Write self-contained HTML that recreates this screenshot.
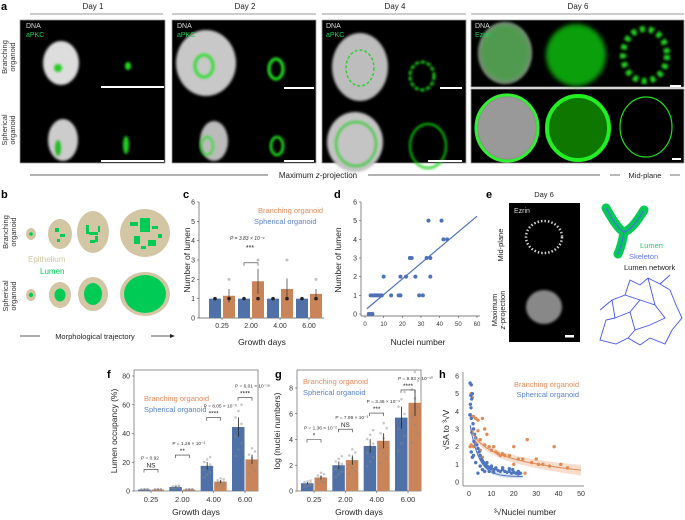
<!DOCTYPE html>
<html><head><meta charset="utf-8"><style>
html,body{margin:0;padding:0;background:#fff;}
svg{display:block;font-family:"Liberation Sans",Arial,sans-serif;}
</style></head><body>
<svg id="fig" width="685" height="520" viewBox="0 0 685 520" xmlns="http://www.w3.org/2000/svg">
<defs>
<filter id="bl" x="-50%" y="-50%" width="200%" height="200%"><feGaussianBlur stdDeviation="1.2"/></filter>
<filter id="bl2" x="-50%" y="-50%" width="200%" height="200%"><feGaussianBlur stdDeviation="2.5"/></filter>
</defs>

<!-- ================= PANEL A ================= -->
<g>
<text x="1" y="10" font-size="11" font-weight="bold">a</text>
<text x="93" y="9" font-size="8" text-anchor="middle" fill="#222">Day 1</text>
<text x="245" y="9" font-size="8" text-anchor="middle" fill="#222">Day 2</text>
<text x="395" y="9" font-size="8" text-anchor="middle" fill="#222">Day 4</text>
<text x="578" y="9" font-size="8" text-anchor="middle" fill="#222">Day 6</text>
<g stroke="#777" stroke-width="0.8">
<line x1="30" y1="14" x2="163" y2="14"/><line x1="172" y1="14" x2="316" y2="14"/><line x1="322" y1="14" x2="466" y2="14"/><line x1="471" y1="14" x2="684" y2="14"/>
</g>
<text transform="translate(7,57) rotate(-90)" font-size="7.5" text-anchor="middle" fill="#333"><tspan x="0" dy="0">Branching</tspan><tspan x="0" dy="8">organoid</tspan></text>
<text transform="translate(7,130) rotate(-90)" font-size="7.5" text-anchor="middle" fill="#333"><tspan x="0" dy="0">Spherical</tspan><tspan x="0" dy="8">organoid</tspan></text>
<g>
<rect x="20" y="20" width="145" height="143" fill="#000" stroke="#999" stroke-width="0.8"/>
<ellipse cx="61" cy="63" rx="18" ry="22" fill="#ddd" filter="url(#bl)"/>
<ellipse cx="58" cy="68" rx="4" ry="4" fill="#2c2" filter="url(#bl)"/>
<ellipse cx="128" cy="66" rx="3" ry="4" fill="#2d2" filter="url(#bl)"/>
<ellipse cx="63" cy="140" rx="15" ry="21" fill="#ccc" filter="url(#bl)"/>
<ellipse cx="58" cy="148" rx="3" ry="8" fill="#2b2" filter="url(#bl)"/>
<ellipse cx="126" cy="145" rx="3" ry="9" fill="#2c2" filter="url(#bl)"/>
<rect x="101" y="86" width="63" height="2" fill="#fff"/><rect x="101" y="160" width="63" height="2" fill="#fff"/>
<text x="26" y="28" font-size="7" fill="#ddd">DNA</text><text x="26" y="37" font-size="7" fill="#2c5">aPKC</text>
</g>
<g>
<rect x="172" y="20" width="144" height="143" fill="#000" stroke="#999" stroke-width="0.8"/>
<ellipse cx="206" cy="63" rx="30" ry="33" fill="#c8c8c8" filter="url(#bl)"/>
<ellipse cx="204" cy="66" rx="9" ry="11" fill="none" stroke="#3d3" stroke-width="3" filter="url(#bl)"/>
<ellipse cx="276" cy="69" rx="7" ry="10" fill="none" stroke="#2e2" stroke-width="3" filter="url(#bl)"/>
<ellipse cx="214" cy="141" rx="14" ry="20" fill="#bbb" filter="url(#bl)"/>
<ellipse cx="207" cy="146" rx="6" ry="9" fill="none" stroke="#3d3" stroke-width="2" filter="url(#bl)"/>
<ellipse cx="277" cy="146" rx="6" ry="9" fill="none" stroke="#2e2" stroke-width="2.5" filter="url(#bl)"/>
<rect x="284" y="87" width="30" height="2" fill="#fff"/><rect x="284" y="160" width="30" height="2" fill="#fff"/>
<text x="177" y="28" font-size="7" fill="#ddd">DNA</text><text x="177" y="37" font-size="7" fill="#2c5">aPKC</text>
</g>
<g>
<rect x="322" y="20" width="144" height="143" fill="#000" stroke="#999" stroke-width="0.8"/>
<ellipse cx="360" cy="67" rx="28" ry="34" fill="#bdbdbd" filter="url(#bl)"/>
<ellipse cx="360" cy="68" rx="14" ry="18" fill="none" stroke="#3c3" stroke-width="1.5" stroke-dasharray="3 2"/>
<ellipse cx="422" cy="76" rx="12" ry="14" fill="none" stroke="#2e2" stroke-width="2.5" stroke-dasharray="4 2" filter="url(#bl)"/>
<ellipse cx="355" cy="142" rx="28" ry="30" fill="#c4c4c4" filter="url(#bl)"/>
<ellipse cx="356" cy="144" rx="20" ry="22" fill="none" stroke="#3c3" stroke-width="2" filter="url(#bl)"/>
<ellipse cx="428" cy="146" rx="18" ry="22" fill="none" stroke="#1c1" stroke-width="2" filter="url(#bl)"/>
<rect x="440" y="87" width="22" height="2" fill="#fff"/><rect x="428" y="160" width="34" height="2" fill="#fff"/>
<text x="326" y="28" font-size="7" fill="#ddd">DNA</text><text x="326" y="37" font-size="7" fill="#2c5">aPKC</text>
</g>
<g>
<rect x="471" y="20" width="213" height="67" fill="#000" stroke="#999" stroke-width="0.8"/>
<rect x="471" y="89" width="213" height="74" fill="#000" stroke="#999" stroke-width="0.8"/>
<ellipse cx="505" cy="53" rx="27" ry="31" fill="#888" filter="url(#bl)"/>
<ellipse cx="505" cy="53" rx="25" ry="29" fill="#2a2" opacity="0.55" filter="url(#bl2)"/>
<ellipse cx="576" cy="55" rx="30" ry="31" fill="#1b1" opacity="0.85" filter="url(#bl2)"/>
<ellipse cx="645" cy="55" rx="22" ry="26" fill="none" stroke="#2c2" stroke-width="6" stroke-dasharray="5 4" filter="url(#bl)"/>
<ellipse cx="507" cy="128" rx="31" ry="33" fill="#999" filter="url(#bl)"/>
<ellipse cx="507" cy="128" rx="31" ry="33" fill="none" stroke="#3e3" stroke-width="3"/>
<ellipse cx="578" cy="128" rx="31" ry="32" fill="#170" filter="url(#bl)"/>
<ellipse cx="578" cy="128" rx="31" ry="32" fill="none" stroke="#2e2" stroke-width="4"/>
<ellipse cx="646" cy="127" rx="26" ry="30" fill="none" stroke="#2d2" stroke-width="1.2"/>
<rect x="670" y="85" width="11" height="2" fill="#fff"/><rect x="672" y="158" width="9" height="2" fill="#fff"/>
<text x="475" y="28" font-size="7" fill="#ddd">DNA</text><text x="475" y="37" font-size="7" fill="#2c5">Ezrin</text>
</g>
<line x1="30" y1="175" x2="268" y2="175" stroke="#333" stroke-width="0.7"/>
<line x1="368" y1="175" x2="600" y2="175" stroke="#333" stroke-width="0.7"/>
<text x="318" y="178" font-size="8" text-anchor="middle" fill="#222">Maximum <tspan font-style="italic">z</tspan>-projection</text>
<line x1="610" y1="175" x2="620" y2="175" stroke="#333" stroke-width="0.7"/>
<line x1="670" y1="175" x2="680" y2="175" stroke="#333" stroke-width="0.7"/>
<text x="645" y="178" font-size="7.5" text-anchor="middle" fill="#222">Mid-plane</text>
</g>

<!-- ================= PANEL B ================= -->
<g>
<text x="1" y="198" font-size="11" font-weight="bold">b</text>
<text transform="translate(8,232) rotate(-90)" font-size="7.5" text-anchor="middle" fill="#333"><tspan x="0">Branching</tspan><tspan x="0" dy="8">organoid</tspan></text>
<text transform="translate(8,296) rotate(-90)" font-size="7.5" text-anchor="middle" fill="#333"><tspan x="0">Spherical</tspan><tspan x="0" dy="8">organoid</tspan></text>
<g fill="#d3c6a4">
<ellipse cx="31" cy="234" rx="5" ry="6"/><ellipse cx="60" cy="234" rx="12" ry="15"/><ellipse cx="93" cy="232" rx="16" ry="21"/><ellipse cx="145" cy="233" rx="25" ry="24"/>
<ellipse cx="31" cy="295" rx="5" ry="6"/><ellipse cx="60" cy="295" rx="11" ry="13"/><ellipse cx="93" cy="294" rx="15" ry="17"/><ellipse cx="145" cy="294" rx="25" ry="22"/>
</g>
<g fill="#00cc55">
<circle cx="31" cy="234" r="1.8"/><rect x="55" y="228" width="4" height="4"/><rect x="60" y="234" width="5" height="3"/><rect x="57" y="239" width="3" height="3"/>
<rect x="86" y="225" width="3" height="9"/><rect x="89" y="232" width="9" height="3"/><rect x="95" y="236" width="3" height="6"/><rect x="90" y="240" width="5" height="3"/><rect x="98" y="226" width="2" height="6"/>
<rect x="130" y="222" width="8" height="4"/><rect x="140" y="218" width="10" height="14"/><rect x="152" y="226" width="6" height="3"/><rect x="134" y="236" width="6" height="8"/><rect x="148" y="240" width="8" height="6"/><rect x="158" y="234" width="4" height="4"/><rect x="141" y="246" width="5" height="3"/>
<circle cx="31" cy="295" r="2.2"/><ellipse cx="60" cy="295" rx="5.5" ry="6.5"/><ellipse cx="93" cy="294" rx="9" ry="11"/><ellipse cx="145" cy="294" rx="21" ry="19"/>
</g>
<text x="28" y="262" font-size="8" fill="#d3c6a4">Epithelium</text>
<text x="40" y="274" font-size="8" fill="#00cc55">Lumen</text>
<line x1="20" y1="336" x2="40" y2="336" stroke="#222" stroke-width="0.8"/>
<line x1="151" y1="336" x2="170" y2="336" stroke="#222" stroke-width="0.8"/>
<polygon points="170,334 175,336 170,338" fill="#222"/>
<text x="95" y="339" font-size="7.5" text-anchor="middle" fill="#222">Morphological trajectory</text>
</g>

<!-- ================= PANEL E ================= -->
<g>
<text x="486" y="198" font-size="11" font-weight="bold">e</text>
<text x="544" y="197" font-size="7.5" text-anchor="middle" fill="#222">Day 6</text>
<rect x="509" y="203" width="71" height="139" fill="#000"/>
<ellipse cx="544" cy="237" rx="18" ry="16" fill="none" stroke="#ccc" stroke-width="2.5" stroke-dasharray="1.5 2"/>
<ellipse cx="544" cy="307" rx="18" ry="17" fill="#888" filter="url(#bl)"/>
<rect x="565" y="335" width="9" height="2.5" fill="#fff"/>
<text x="514" y="213" font-size="7" fill="#ddd">Ezrin</text>
<text transform="translate(503,245) rotate(-90)" font-size="7.5" text-anchor="middle" fill="#222">Mid-plane</text>
<text transform="translate(497,310) rotate(-90)" font-size="7.5" text-anchor="middle" fill="#222"><tspan x="0">Maximum</tspan><tspan x="0" dy="8"><tspan font-style="italic">z</tspan>-projection</tspan></text>
<path d="M606,208 Q618,230 624,232 Q632,230 644,210 M624,232 Q622,245 618,254" fill="none" stroke="#00cc55" stroke-width="9" stroke-linecap="round"/>
<path d="M606,208 Q618,230 624,232 Q632,230 644,210 M624,232 Q622,245 618,254" fill="none" stroke="#5566ee" stroke-width="1.2"/>
<text x="640" y="248" font-size="7.5" fill="#22cc66">Lumen</text>
<text x="629" y="259" font-size="7.5" fill="#6677ee">Skeleton</text>
<text x="624" y="270" font-size="7.5" fill="#222">Lumen network</text>
<path d="M600,340 L606,320 L615,318 L612,300 L625,295 L630,280 L640,285 L648,278 L660,284 L670,290 L676,305 L682,318 L672,330 L665,344 L650,338 L640,345 L628,338 L616,344 Z M615,318 L630,312 L640,300 L655,305 L665,318 L650,325 L635,330 L628,338 M625,295 L640,300 M648,278 L655,305 M630,312 L635,330 M612,300 L600,310 M660,284 L670,275" fill="none" stroke="#4455ee" stroke-width="0.9"/>
</g>

<g id="charts"></g>
</svg>
<script>
// ---------- data ----------
const cDays = ['0.25','2.00','4.00','6.00'];
const cSpherical = [1, 1, 1, 1];
const cBranching = [1.15, 1.9, 1.5, 1.25];
const cBranchErr = [0.35, 0.65, 0.55, 0.25];
const cYTicks = [0,1,2,3,4,5,6];

const dNuclei = [2,3,4,3,4,5,6,7,8,9,14,18,19,29,31,10,19,22,27,35,24,25,33,35,42,44,34,41];
const dLumen  = [0,0,0,1,1,1,1,1,1,1,1,1,1,1,1,2,2,2,2,2,3,3,3,3,4,4,5,5];
const dXTicks = [0,10,20,30,40,50,60];
const dYTicks = [0,1,2,3,4,5,6];

const fDays = ['0.25','2.00','4.00','6.00'];
const fSpherical = [1, 2.8, 17.5, 44.5];
const fBranching = [1, 1, 6.5, 22];
const fBracket = [15, 25, 51, 65];
const fYTicks = [0,20,40,60,80];
const fPvals = ['P = 0.92','P = 1.26 × 10⁻²','P = 8.05 × 10⁻³','P = 6.01 × 10⁻¹⁸'];
const fStars = ['NS','**','****','****'];

const gDays = ['0.25','2.00','4.00','6.00'];
const gSpherical = [0.6, 2.0, 3.5, 5.7];
const gBranching = [1.05, 2.4, 3.9, 6.85];
const gBracket = [4.0, 4.8, 6.05, 7.85];
const gYTicks = [0,2,4,6,8];
const gPvals = ['P = 1.36 × 10⁻²','P = 7.99 × 10⁻²','P = 3.46 × 10⁻⁴','P = 9.93 × 10⁻¹⁰'];
const gStars = ['*','NS','***','****'];

const hBlueX = [0.5,1,0.8,1.2,0.6,1.5,0.9,0.4,1,1.8,2,1.3,2.5,3,2.2,3.5,4,1,1.5,4.5,5,5.5,6,6.5,7,7.5,8,8.5,9,10,11,12,13,14,15,16,17,18,19,20,21,22,23,12,15,10,9,4,6,7,3,2,5,11,18,22,19.5,8];
const hBlueY = [5.6,5.5,4.9,4.7,4.4,5.0,4.2,3.8,3.6,3.3,3.0,2.8,2.7,2.5,2.3,2.1,1.9,1.7,1.4,1.7,1.5,1.3,1.2,1.1,1.0,0.95,0.9,0.85,0.8,0.75,0.7,0.75,0.65,0.6,0.7,0.6,0.55,0.6,0.5,0.55,0.5,0.45,0.5,0.8,0.8,0.9,0.6,0.5,0.7,0.6,1.1,1.5,0.9,0.55,0.75,0.6,0.7,1.1];
const hOrangeX = [1,1.5,0.7,1.2,2,3,4,0.5,1,2,3,5,6,7,8,9,10,11,12,13,14,15,16,18,20,22,24,25,26,28,30,31,33,36,38,41,44,5,4,6,7,20];
const hOrangeY = [5.0,4.8,3.8,3.7,3.7,3.6,3.5,2.0,2.1,2.0,2.2,2.4,3.6,2.1,2.7,2.0,1.8,2.0,1.7,1.6,1.5,1.6,1.5,1.5,2.0,1.3,1.3,0.5,2.4,1.1,1.3,1.0,1.0,0.9,2.0,1.0,0.8,1.8,2.9,1.4,3.0,1.0];
const hXTicks = [0,10,20,30,40,50];
const hYTicks = [0,1,2,3,4,5,6];

// ---------- helpers ----------
const NS = 'http://www.w3.org/2000/svg';
const root = document.getElementById('charts');
function el(tag, attrs, parent, text) {
  const e = document.createElementNS(NS, tag);
  for (const k in attrs) e.setAttribute(k, attrs[k]);
  if (text !== undefined) e.textContent = text;
  (parent || root).appendChild(e);
  return e;
}
function grp(name) {
  const g = el('g', {});
  
  
  return g;
}
const BLUE = '#4f71a8', ORANGE = '#c9845a', LBLUE = '#5a82cc', LORANGE = '#e48a58';
const FS = 7;

// ---------- panel c ----------
(function(){
  const g = grp('panel-c');
  const x0 = 199, x1 = 324, yb = 318, yt = 202;
  const y = v => yb - v / 6 * (yb - yt);
  const cx = i => 222 + i * 29;
  const t = el('text', {x:183, y:198, 'font-size':11, 'font-weight':'bold'}, g, 'c');
  
  
  el('line', {x1:x0, y1:yt, x2:x0, y2:yb, stroke:'#555', 'stroke-width':0.7}, g);
  el('line', {x1:x0, y1:yb, x2:x1, y2:yb, stroke:'#555', 'stroke-width':0.7}, g);
  cYTicks.forEach(v => {
    el('line', {x1:x0-2, y1:y(v), x2:x0, y2:y(v), stroke:'#555', 'stroke-width':0.6}, g);
    el('text', {x:x0-4, y:y(v)+2.5, 'font-size':FS, 'text-anchor':'end', fill:'#333'}, g, v);
  });
  cDays.forEach((d, i) => {
    el('line', {x1:cx(i), y1:yb, x2:cx(i), y2:yb+2, stroke:'#555', 'stroke-width':0.6}, g);
    el('text', {x:cx(i), y:yb+10, 'font-size':FS, 'text-anchor':'middle', fill:'#333'}, g, d);
    const b1 = el('rect', {x:cx(i)-13, y:y(cSpherical[i]), width:12, height:yb-y(cSpherical[i]), fill:BLUE}, g);
    
    
    const b2 = el('rect', {x:cx(i)+1, y:y(cBranching[i]), width:12, height:yb-y(cBranching[i]), fill:ORANGE}, g);
    
    
    el('line', {x1:cx(i)+7, y1:y(cBranching[i]-cBranchErr[i]), x2:cx(i)+7, y2:y(cBranching[i]+cBranchErr[i]), stroke:'#333', 'stroke-width':0.7}, g);
    el('circle', {cx:cx(i)-7, cy:y(1), r:1.8, fill:'#222'}, g);
    el('circle', {cx:cx(i)+7, cy:y(1), r:1.8, fill:'#222'}, g);
    el('circle', {cx:cx(i)+7, cy:y(Math.round(cBranching[i]+1)), r:1.5, fill:'#999', opacity:0.6}, g);
  });
  el('text', {x:258, y:213, 'font-size':7.5, fill:LORANGE}, g, 'Branching organoid');
  el('text', {x:254, y:224, 'font-size':7.5, fill:LBLUE}, g, 'Spherical organoid');
  el('text', {x:230, y:240, 'font-size':5, fill:'#333', 'font-style':'italic'}, g, 'P = 3.83 × 10⁻⁴');
  el('text', {x:250, y:250, 'font-size':7, 'text-anchor':'middle', fill:'#222'}, g, '***');
  el('path', {d:`M${cx(1)-7},${y(2.7)} v-3 H${cx(1)+7} v3`, fill:'none', stroke:'#333', 'stroke-width':0.6}, g);
  const yl = el('text', {transform:`translate(190,260) rotate(-90)`, 'font-size':8.5, 'text-anchor':'middle', fill:'#222'}, g, 'Number of lumen');
  
  
  const xl = el('text', {x:262, y:345, 'font-size':8.5, 'text-anchor':'middle', fill:'#222'}, g, 'Growth days');
  
  
})();

// ---------- panel d ----------
(function(){
  const g = grp('panel-d');
  const x = v => 365 + v / 60 * 112;
  const yb = 314, yt = 202;
  const y = v => yb - v / 6 * (yb - yt);
  const t = el('text', {x:334, y:198, 'font-size':11, 'font-weight':'bold'}, g, 'd');
  
  
  el('line', {x1:361, y1:yt, x2:361, y2:yb+2, stroke:'#555', 'stroke-width':0.7}, g);
  el('line', {x1:361, y1:yb+2, x2:480, y2:yb+2, stroke:'#555', 'stroke-width':0.7}, g);
  dYTicks.forEach(v => {
    el('line', {x1:359, y1:y(v), x2:361, y2:y(v), stroke:'#555', 'stroke-width':0.6}, g);
    el('text', {x:357, y:y(v)+2.5, 'font-size':FS, 'text-anchor':'end', fill:'#333'}, g, v);
  });
  dXTicks.forEach(v => {
    el('line', {x1:x(v), y1:yb+2, x2:x(v), y2:yb+4, stroke:'#555', 'stroke-width':0.6}, g);
    el('text', {x:x(v), y:yb+12, 'font-size':FS-1, 'text-anchor':'middle', fill:'#333'}, g, v);
  });
  const n = dNuclei.length;
  const mx = dNuclei.reduce((a,b)=>a+b,0)/n, my = dLumen.reduce((a,b)=>a+b,0)/n;
  let sxy=0, sxx=0;
  for (let i=0;i<n;i++){ sxy += (dNuclei[i]-mx)*(dLumen[i]-my); sxx += (dNuclei[i]-mx)**2; }
  const sl = sxy/sxx, ic = my - sl*mx;
  const xe = Math.min(60, (6-ic)/sl);
  const fl = el('line', {x1:x(1), y1:y(ic+sl), x2:x(xe), y2:y(ic+sl*xe), stroke:'#4f71b8', 'stroke-width':1.2}, g);
  
  
  dNuclei.forEach((v, i) => {
    const p = el('circle', {cx:x(v), cy:y(dLumen[i]), r:2, fill:'#4f71b8'}, g);
    
    
  });
  const yl = el('text', {transform:`translate(341,260) rotate(-90)`, 'font-size':8.5, 'text-anchor':'middle', fill:'#222'}, g, 'Number of lumen');
  
  
  const xl = el('text', {x:418, y:345, 'font-size':8.5, 'text-anchor':'middle', fill:'#222'}, g, 'Nuclei number');
  
  
})();

// ---------- bar panels f & g ----------
function barPanel(name, letter, lx, x0, x1, yTop, ymaxV, yTicks, days, sph, br, brk, pv, st, ytitle, legX, legY) {
  const g = grp(name);
  const yb = 491;
  const y = v => yb - v / ymaxV * (yb - yTop);
  const cx = i => x0 + 17 + i * ((x1 - x0 - 30) / 3);
  const t = el('text', {x:lx, y:378, 'font-size':11, 'font-weight':'bold'}, g, letter);
  
  
  el('rect', {x:x0, y:370, width:x1-x0, height:yb-370, fill:'none', stroke:'#666', 'stroke-width':0.7}, g);
  yTicks.forEach(v => {
    el('line', {x1:x0-2, y1:y(v), x2:x0, y2:y(v), stroke:'#555', 'stroke-width':0.6}, g);
    el('text', {x:x0-4, y:y(v)+2.5, 'font-size':FS, 'text-anchor':'end', fill:'#333'}, g, v);
  });
  days.forEach((d, i) => {
    el('line', {x1:cx(i), y1:yb, x2:cx(i), y2:yb+2, stroke:'#555', 'stroke-width':0.6}, g);
    el('text', {x:cx(i), y:yb+11, 'font-size':FS+0.5, 'text-anchor':'middle', fill:'#333'}, g, d);
    const b1 = el('rect', {x:cx(i)-13, y:y(sph[i]), width:12.5, height:yb-y(sph[i]), fill:BLUE}, g);
    
    
    const b2 = el('rect', {x:cx(i)+0.5, y:y(br[i]), width:12.5, height:yb-y(br[i]), fill:ORANGE}, g);
    
    
    for (let k = 0; k < 9; k++) {
      const f1 = 0.55 + 0.9 * ((k * 37) % 9) / 9, f2 = 0.55 + 0.9 * ((k * 53) % 9) / 9;
      el('circle', {cx:cx(i)-6.5 + ((k%3)-1)*3, cy:y(sph[i]*f1), r:1.3, fill:'#888', opacity:0.45}, g);
      el('circle', {cx:cx(i)+7 + ((k%3)-1)*3, cy:y(br[i]*f2), r:1.3, fill:'#888', opacity:0.45}, g);
    }
    el('line', {x1:cx(i)-6.5, y1:y(sph[i]*0.85), x2:cx(i)-6.5, y2:y(sph[i]*1.15), stroke:'#222', 'stroke-width':0.8}, g);
    el('line', {x1:cx(i)+7, y1:y(br[i]*0.85), x2:cx(i)+7, y2:y(br[i]*1.15), stroke:'#222', 'stroke-width':0.8}, g);
    const top = brk[i];
    el('path', {d:`M${cx(i)-7},${y(top)+3} v-3 H${cx(i)+7} v3`, fill:'none', stroke:'#333', 'stroke-width':0.6}, g);
    el('text', {x:cx(i), y:y(top)-2, 'font-size':6.5, 'text-anchor':'middle', fill:'#222'}, g, st[i]);
    el('text', {x:cx(i)-10, y:y(top)-10, 'font-size':4.8, fill:'#333'}, g, pv[i]);
  });
  el('text', {x:legX, y:legY, 'font-size':7.5, fill:LORANGE}, g, 'Branching organoid');
  el('text', {x:legX, y:legY+11, 'font-size':7.5, fill:LBLUE}, g, 'Spherical organoid');
  const yl = el('text', {transform:`translate(${x0-17},431) rotate(-90)`, 'font-size':8.5, 'text-anchor':'middle', fill:'#222'}, g, ytitle);
  
  
  const xl = el('text', {x:(x0+x1)/2, y:515, 'font-size':8.5, 'text-anchor':'middle', fill:'#222'}, g, 'Growth days');
  
  
}
barPanel('panel-f', 'f', 107, 134, 258, 376, 80, fYTicks, fDays, fSpherical, fBranching, fBracket, fPvals, fStars, 'Lumen occupancy (%)', 144, 401);
barPanel('panel-g', 'g', 275, 297, 421, 388, 8, gYTicks, gDays, gSpherical, gBranching, gBracket, gPvals, gStars, 'log (nuclei numbers)', 303, 384);

// ---------- panel h ----------
(function(){
  const g = grp('panel-h');
  const x = v => 469 + v / 50 * 112;
  const yb = 482, yt = 376;
  const y = v => yb - v / 6 * (yb - yt);
  const t = el('text', {x:439, y:378, 'font-size':11, 'font-weight':'bold'}, g, 'h');
  
  
  el('line', {x1:463, y1:372, x2:463, y2:yb+4, stroke:'#666', 'stroke-width':0.7}, g);
  el('line', {x1:463, y1:yb+4, x2:584, y2:yb+4, stroke:'#666', 'stroke-width':0.7}, g);
  hYTicks.forEach(v => el('text', {x:459, y:y(v)+2.5, 'font-size':FS, 'text-anchor':'end', fill:'#333'}, g, v));
  hXTicks.forEach(v => el('text', {x:x(v), y:yb+14, 'font-size':FS, 'text-anchor':'middle', fill:'#333'}, g, v));
  const fo = v => 3.5 - 0.72 * Math.log(v + 1);
  const fb = v => 0.3 + 3.3 * Math.exp(-v / 4);
  let lo = '', lb = '';
  for (let v = 1; v <= 50; v += 1) lo += (v===1?'M':'L') + x(v) + ',' + y(fo(v));
  for (let v = 0.5; v <= 24; v += 0.5) lb += (v===0.5?'M':'L') + x(v) + ',' + y(fb(v));
  let up='', dn='';
  for (let v = 1; v <= 50; v += 1) { up += (v===1?'M':'L') + x(v) + ',' + y(fo(v)+0.15+v*0.003); }
  for (let v = 50; v >= 1; v -= 1) { dn += 'L' + x(v) + ',' + y(fo(v)-0.15-v*0.003); }
  el('path', {d:up+dn+'Z', fill:'#f2c6a8', opacity:0.6}, g);
  up=''; dn='';
  for (let v = 0.5; v <= 24; v += 0.5) { up += (v===0.5?'M':'L') + x(v) + ',' + y(fb(v)+0.12); }
  for (let v = 24; v >= 0.5; v -= 0.5) { dn += 'L' + x(v) + ',' + y(fb(v)-0.12); }
  el('path', {d:up+dn+'Z', fill:'#bcd0ee', opacity:0.6}, g);
  hOrangeX.forEach((v, i) => {
    const p = el('circle', {cx:x(v), cy:y(hOrangeY[i]), r:1.7, fill:'#e08a55'}, g);
    
    
  });
  hBlueX.forEach((v, i) => {
    const p = el('circle', {cx:x(v), cy:y(hBlueY[i]), r:1.7, fill:'#4f74c0'}, g);
    
    
  });
  const c1 = el('path', {d:lo, fill:'none', stroke:'#e08a55', 'stroke-width':1}, g);
  
  
  const c2 = el('path', {d:lb, fill:'none', stroke:'#4f74c0', 'stroke-width':1}, g);
  
  
  el('text', {x:579, y:387, 'font-size':7.5, 'text-anchor':'end', fill:LORANGE}, g, 'Branching organoid');
  el('text', {x:579, y:397, 'font-size':7.5, 'text-anchor':'end', fill:LBLUE}, g, 'Spherical organoid');
  const yl = el('text', {transform:`translate(449,430) rotate(-90)`, 'font-size':8.5, 'text-anchor':'middle', fill:'#222'}, g, '√SA to ³√V');
  
  
  const xl = el('text', {x:525, y:515, 'font-size':8.5, 'text-anchor':'middle', fill:'#222'}, g, '³√Nuclei number');
  
  
})();
</script>
</body></html>
